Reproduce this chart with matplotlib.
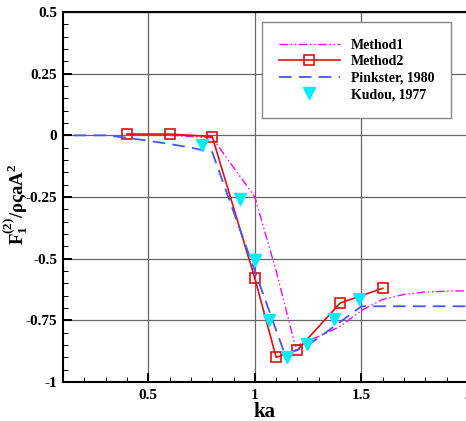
import numpy as np
import matplotlib.pyplot as plt
from matplotlib.ticker import MultipleLocator, FuncFormatter

plt.rcParams['font.family'] = ['Liberation Serif', 'DejaVu Serif']
plt.rcParams['font.weight'] = 'bold'
plt.rcParams['mathtext.fontset'] = 'custom'
plt.rcParams['mathtext.rm'] = 'Liberation Serif:bold'
plt.rcParams['mathtext.it'] = 'Liberation Serif:bold'
plt.rcParams['mathtext.bf'] = 'Liberation Serif:bold'
plt.rcParams['axes.unicode_minus'] = False

# Method1 (dash-dot-dot curve)
ka_m1 = [0.4, 0.6, 0.7, 0.8, 0.9, 1.0, 1.1, 1.19, 1.3, 1.4, 1.5, 1.6, 1.7, 1.8, 1.9, 2.0]
f_m1 = [0.005, 0.0, -0.005, -0.01, -0.13, -0.25, -0.55, -0.855, -0.815, -0.775, -0.71, -0.665, -0.645, -0.635, -0.632, -0.63]

# Method2 (squares)
ka_m2 = [0.4, 0.6, 0.8, 1.0, 1.1, 1.2, 1.4, 1.6]
f_m2 = [0.005, 0.005, -0.005, -0.58, -0.9, -0.87, -0.68, -0.62]

# Pinkster, 1980
ka_pk = [0.15, 0.3, 0.4, 0.5, 0.6, 0.7, 0.8, 1.0, 1.1, 1.14, 1.2, 1.25, 1.3, 1.4, 1.5, 1.7, 2.0]
f_pk = [0.0, 0.0, -0.01, -0.022, -0.035, -0.05, -0.068, -0.55, -0.79, -0.885, -0.87, -0.85, -0.82, -0.757, -0.693, -0.693, -0.693]

# Kudou, 1977 (measurements)
ka_kd = [0.75, 0.93, 1.0, 1.065, 1.15, 1.245, 1.37, 1.49]
f_kd = [-0.04, -0.26, -0.505, -0.747, -0.9, -0.845, -0.743, -0.665]

fig = plt.figure(figsize=(4.66, 4.21), dpi=100)
ax = fig.add_axes([63 / 466, 1 - 382 / 421, 405 / 466, 370 / 421])

ax.plot(ka_m1, f_m1, color='#ff00ff', lw=1.0, dashes=(6, 2, 1, 2, 1, 2), label='Method1')
ax.plot(ka_m2, f_m2, color='#dd1111', lw=1.2, marker='s', ms=7.5, mfc='none', mew=1.2, label='Method2')
ax.plot(ka_pk, f_pk, color='#4455ff', lw=1.3, dashes=(7, 4), label='Pinkster, 1980')
ax.plot(ka_kd, f_kd, ls='none', marker='v', ms=8, color='#00eeff', mec='#00eeff', label='Kudou, 1977')

ax.set_xlim(0.1, 2.0)
ax.set_ylim(-1, 0.5)
ax.xaxis.set_major_locator(MultipleLocator(0.5))
ax.xaxis.set_minor_locator(MultipleLocator(0.1))
ax.yaxis.set_major_locator(MultipleLocator(0.25))
ax.yaxis.set_minor_locator(MultipleLocator(0.05))
fmt = FuncFormatter(lambda v, p: ('%g' % v))
ax.xaxis.set_major_formatter(fmt)
ax.yaxis.set_major_formatter(fmt)

ax.grid(which='major', color='#666666', lw=0.9)
ax.tick_params(which='major', direction='in', length=6.5, width=1.4, labelsize=11, top=False, right=False)
ax.tick_params(which='minor', direction='in', length=3.6, width=0.7, top=False, right=False)
ax.tick_params(axis='y', which='major', pad=4.3)
ax.tick_params(axis='x', which='major', pad=5)
for s in ax.spines.values():
    s.set_linewidth(1.5)

ax.set_xlabel('ka', fontsize=15, fontweight='bold', va='center')
ax.xaxis.set_label_coords(0.4975, -0.08)
ax.set_ylabel(r'$\mathbf{F}_1^{(2)}/\rho\varsigma a\mathbf{A}^2$', fontsize=13.5, va='center')
ax.yaxis.set_label_coords(-0.118, 0.481)

leg = ax.legend(loc='upper left', bbox_to_anchor=(262 / 466, 1 - 22 / 421), bbox_transform=fig.transFigure,
                borderaxespad=0, fancybox=False, framealpha=1, edgecolor='#888888',
                prop={'family': 'Liberation Serif', 'weight': 'bold', 'size': 10},
                handlelength=4.4, handletextpad=0.8, labelspacing=0.25, borderpad=1.2)
leg.get_frame().set_linewidth(1.0)

fig.savefig('out.png', dpi=100)
